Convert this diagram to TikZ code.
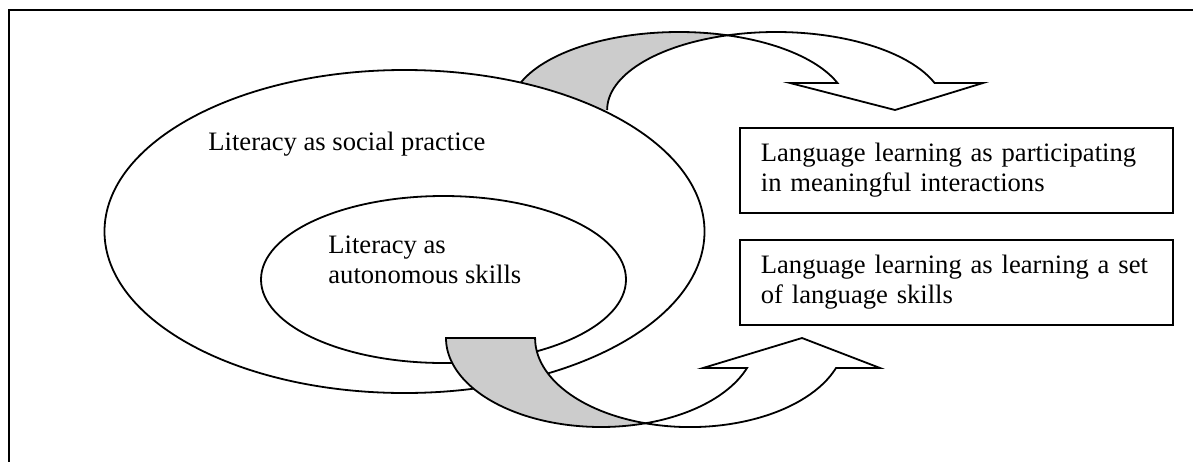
\documentclass[tikz,border=0pt]{standalone}
\usepackage{fontspec}
\setmainfont{Liberation Serif}
\usepackage{tikz}
\usetikzlibrary{calc}
\usetikzlibrary{positioning}

\tikzset{
	shape line/.style={line width=0.9pt,line join=miter},
	back band/.style={shape line,fill=gray!40},
	front band/.style={shape line,fill=white},
	ring/.style={shape line,fill=white},
	label text/.style={inner sep=0pt,align=left,font=\fontsize{13.3pt}{15pt}\selectfont},
	learnbox/.style={draw,line width=0.9pt,inner xsep=10.5pt,minimum width=216.5pt,minimum height=42.5pt,text width=195.5pt,align=left,font=\fontsize{13.3pt}{15pt}\selectfont}
}

\begin{document}
\begin{tikzpicture}[x=0.5pt,y=-0.5pt]
		\useasboundingbox (0,0) rectangle (1193,461);
		\clip (0,0) rectangle (1193,461);
		\draw[line width=1.1pt] (9,10) rectangle (1220,490);
		\fill[gray!40] (510,110) arc[start angle=180,end angle=286.7,x radius=169,y radius=78] arc[start angle=253.3,end angle=180,x radius=169,y radius=78] -- cycle;
		\draw[shape line] (510,110) arc[start angle=180,end angle=286.7,x radius=169,y radius=78] arc[start angle=253.3,end angle=180,x radius=169,y radius=78];
		\draw[front band] (727.5,35.3) arc[start angle=253.3,end angle=339.7,x radius=169,y radius=78] -- (983,83) -- (895,110) -- (790,83) -- (837.5,83) arc[start angle=339.7,end angle=286.7,x radius=169,y radius=78] -- cycle;
		\draw[ring] (404.5,231.5) ellipse [x radius=300,y radius=161.5];
		\draw[ring] (443.5,279.5) ellipse [x radius=182.5,y radius=83.5];
		\node[label text,anchor=base west] (social) at (208,150) {Literacy as social practice};
		\node[label text,anchor=base west] (autonomous) at (328,283) {Literacy as\\autonomous skills};
		\node[learnbox,anchor=north west] (participating) at (739,127) {Language learning as participating\\in meaningful interactions};
		\node[learnbox,anchor=north west] (skills) at (739,239) {Language learning as learning a set\\of language skills};
		\draw[back band] (446,338) arc[start angle=180,end angle=73.3,x radius=155,y radius=89] arc[start angle=106.7,end angle=180,x radius=155,y radius=89] -- cycle;
		\draw[front band] (645.5,423.3) arc[start angle=106.7,end angle=19.7,x radius=155,y radius=89] -- (880,368) -- (802,338) -- (703,368) -- (747,368) arc[start angle=19.7,end angle=73.3,x radius=155,y radius=89] -- cycle;
	\end{tikzpicture}
\end{document}
